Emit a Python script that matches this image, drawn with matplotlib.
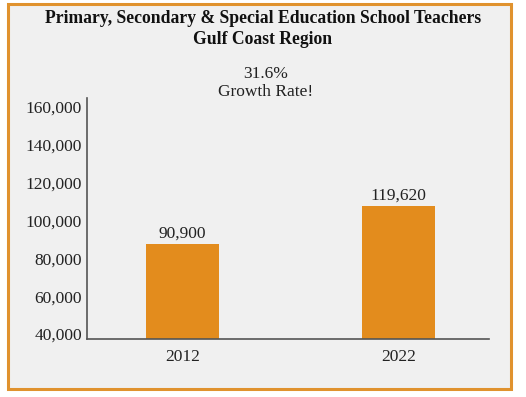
import matplotlib.pyplot as plt
from matplotlib.patches import Rectangle
from matplotlib.ticker import FuncFormatter

# data
years = ['2012', '2022']
bar_heights = [87600, 107700]      # bar tops
bar_labels = ['90,900', '119,620']  # value labels printed above the bars
y_ticks = [40000, 60000, 80000, 100000, 120000, 140000, 160000]

plt.rcParams['font.family'] = ['Liberation Serif', 'DejaVu Serif']

fig = plt.figure(figsize=(5.26, 3.97), dpi=100)
fig.patch.set_facecolor('white')

# orange frame with light grey panel
frame = Rectangle((8 / 526, 1 - 389 / 397), 503 / 526, 385 / 397,
                  transform=fig.transFigure, facecolor='#f0f0f0',
                  edgecolor='#e0922e', linewidth=2.2, zorder=-1)
fig.patches.append(frame)

ax = fig.add_axes([87 / 526, 1 - 339 / 397, 402 / 526, 241 / 397])
ax.set_zorder(2)
ax.set_facecolor('none')

x = range(len(years))
ax.bar(x, bar_heights, width=0.338, color='#e38c1d', zorder=2)
for xi, h, lab in zip(x, bar_heights, bar_labels):
    ax.annotate(lab, (xi, h), xytext=(0, 2), textcoords='offset points',
                ha='center', va='bottom', fontsize=12.5, color='#222222')

ax.set_xlim(-0.442, 1.419)
ax.set_ylim(37400, 164800)
ax.set_xticks(list(x))
ax.set_xticklabels(years)
ax.set_yticks(y_ticks)
ax.yaxis.set_major_formatter(FuncFormatter(lambda v, p: f'{int(v):,}'))
ax.tick_params(length=0, labelsize=12.5, colors='#222222', pad=3.5)
ax.tick_params(axis='x', pad=7)

for side in ['top', 'right']:
    ax.spines[side].set_visible(False)
for side in ['left', 'bottom']:
    ax.spines[side].set_color('#555555')
    ax.spines[side].set_linewidth(1.2)

fig.text(0.5, 1 - 10 / 397,
         'Primary, Secondary & Special Education School Teachers\nGulf Coast Region',
         ha='center', va='top', fontsize=12.7, fontweight='bold',
         linespacing=1.3, color='#111111')
fig.text(266 / 526, 1 - 66 / 397, '31.6%\nGrowth Rate!',
         ha='center', va='top', fontsize=12.5, linespacing=1.2, color='#222222')

plt.savefig('out.png', dpi=100)
